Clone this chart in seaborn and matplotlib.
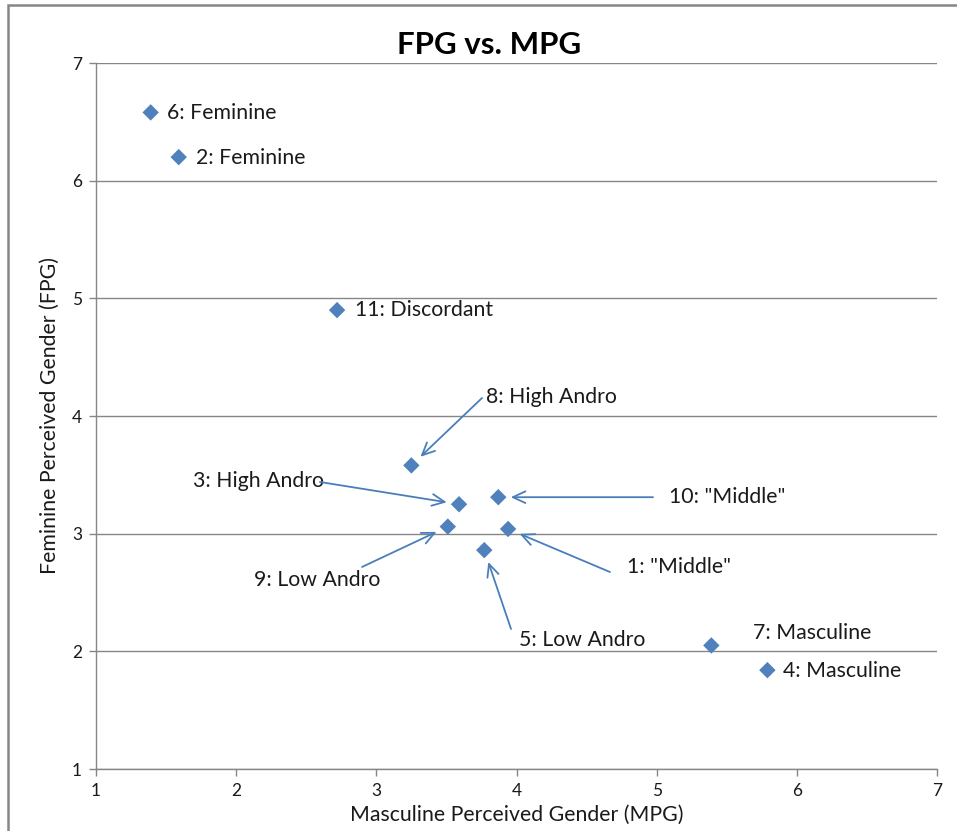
import matplotlib
matplotlib.use("Agg")
import matplotlib.pyplot as plt
from matplotlib.patches import Rectangle
import seaborn as sns
import pandas as pd

# Perceived-gender ratings per stimulus
labels = ['1: "Middle"', "2: Feminine", "3: High Andro", "4: Masculine", "5: Low Andro",
          "6: Feminine", "7: Masculine", "8: High Andro", "9: Low Andro", '10: "Middle"',
          "11: Discordant"]
mpg = [3.94, 1.59, 3.59, 5.79, 3.77, 1.39, 5.39, 3.25, 3.51, 3.87, 2.72]
fpg = [3.04, 6.20, 3.25, 1.84, 2.86, 6.58, 2.05, 3.58, 3.06, 3.31, 4.90]

# Label anchor positions (data coords)
label_x = [4.79, 1.71, 1.69, 5.90, 4.02, 1.51, 5.69, 3.78, 2.13, 5.09, 2.85]
label_y = [2.72, 6.19, 3.45, 1.83, 2.10, 6.575, 2.16, 4.16, 2.61, 3.31, 4.90]
# Callout arrow tails (data coords); None where the label sits beside its marker
arrow_x = [4.667, None, 2.598, None, 3.961, None, None, 3.754, 2.898, 4.974, None]
arrow_y = [2.674, None, 3.439, None, 2.190, None, None, 4.153, 2.717, 3.31, None]

df = pd.DataFrame({"MPG": mpg, "FPG": fpg, "label": labels})

sns.set_theme(style="white")
plt.rcParams["font.family"] = ["Lato", "DejaVu Sans"]

fig = plt.figure(figsize=(9.57, 8.31), dpi=100)
ax = fig.add_axes([96 / 957, 1 - 769 / 831, (937 - 96) / 957, (769 - 63) / 831])

blue = "#4f81bd"
grey = "#868686"
ink = "#1a1a1a"

sns.scatterplot(data=df, x="MPG", y="FPG", marker="D", s=70, color=blue,
                edgecolor="none", ax=ax, zorder=3)

ax.set_xlim(1, 7)
ax.set_ylim(1, 7)
ax.set_xticks(range(1, 8))
ax.set_yticks(range(1, 8))
ax.yaxis.grid(True, color=grey, linewidth=1.0)
ax.xaxis.grid(False)
ax.set_axisbelow(True)
for side in ("top", "right"):
    ax.spines[side].set_visible(False)
for side in ("left", "bottom"):
    ax.spines[side].set_color(grey)
    ax.spines[side].set_linewidth(1.0)
ax.tick_params(axis="both", which="major", length=5, width=1.0, color=grey,
               labelsize=12.5, labelcolor=ink, direction="out",
               left=True, bottom=True, pad=5)

ax.set_xlabel("Masculine Perceived Gender (MPG)", fontsize=15.3, color=ink, labelpad=4)
ax.set_ylabel("Feminine Perceived Gender (FPG)", fontsize=15.3, color=ink, labelpad=9)
fig.text(489 / 957, 1 - 45 / 831, "FPG vs. MPG", fontsize=22.5, fontweight="bold",
         color="black", ha="center", va="center")

for lab, x, y, tx, ty, axx, ayy in zip(labels, mpg, fpg, label_x, label_y, arrow_x, arrow_y):
    ax.text(tx, ty, lab, fontsize=15.3, color=ink, ha="left", va="center")
    if axx is not None:
        ax.annotate("", xy=(x, y), xytext=(axx, ayy),
                    arrowprops=dict(arrowstyle="->,head_length=0.75,head_width=0.35",
                                    color="#4a7ebb", lw=1.3, shrinkA=0, shrinkB=9))

# outer chart frame
fig.patches.append(Rectangle((8 / 957, -0.1), 1.2, 1 - 5 / 831 + 0.1,
                             transform=fig.transFigure, fill=False,
                             edgecolor=grey, linewidth=1.8, zorder=0))

fig.savefig("out.png", dpi=100)
